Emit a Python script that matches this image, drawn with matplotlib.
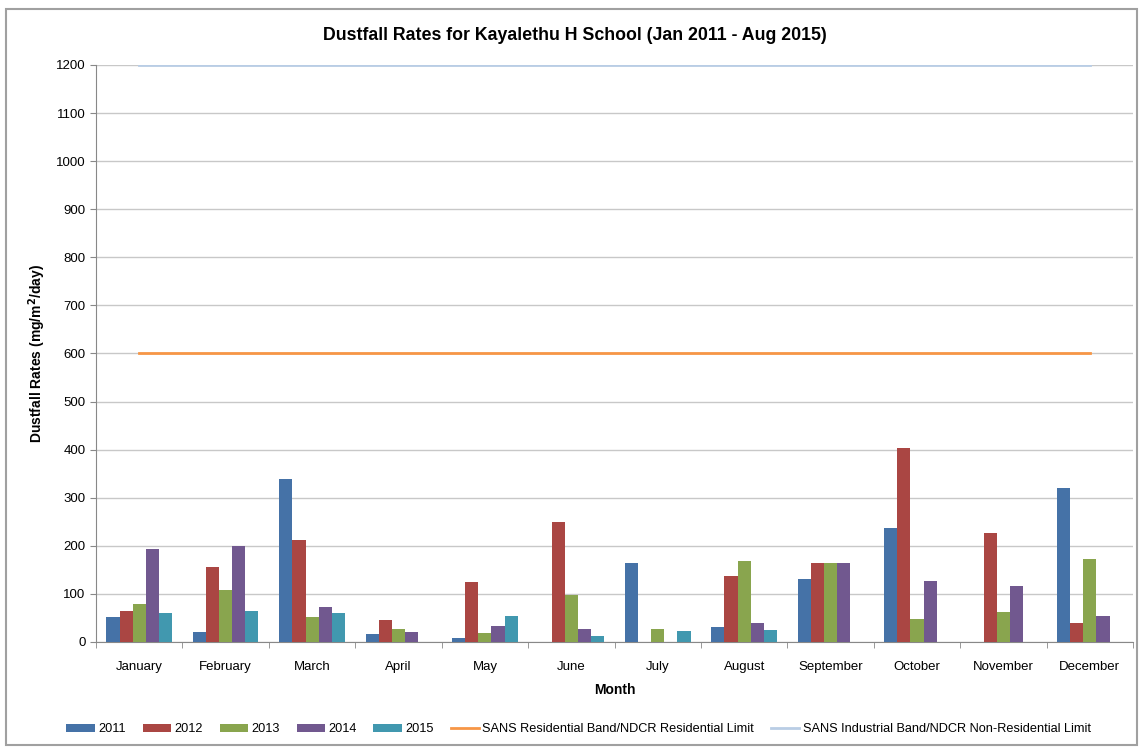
import numpy as np
import matplotlib.pyplot as plt
from matplotlib.patches import Rectangle

plt.rcParams['font.family'] = ['Liberation Sans', 'DejaVu Sans']

months = ['January', 'February', 'March', 'April', 'May', 'June', 'July',
          'August', 'September', 'October', 'November', 'December']
years = ['2011', '2012', '2013', '2014', '2015']

# dustfall values per year (nan = no measurement)
nan = np.nan
v2011 = [52, 20, 338, 17, 8, nan, 164, 32, 132, 237, nan, 320]
v2012 = [65, 155, 212, 46, 125, 250, nan, 138, 165, 403, 226, 40]
v2013 = [78, 108, 51, 26, 18, 98, 26, 169, 164, 47, 63, 172]
v2014 = [193, 200, 73, 21, 34, 28, nan, 39, 165, 127, 117, 53]
v2015 = [60, 64, 61, nan, 53, 13, 22, 24, nan, nan, nan, nan]
residential_limit = [600] * 12
industrial_limit = [1200] * 12

series = [v2011, v2012, v2013, v2014, v2015]
colors = ['#4572A7', '#AA4643', '#89A54E', '#71588F', '#4198AF']

fig = plt.figure(figsize=(11.39, 7.47), dpi=100)
ax = fig.add_axes([0.0843, 0.1406, 0.9105, 0.7724])

x = np.arange(len(months))
w = 0.152
handles = []
for i, (vals, c) in enumerate(zip(series, colors)):
    b = ax.bar(x + (i - 2) * w, vals, width=w, color=c, label=years[i], zorder=3)
    handles.append(b)

l1, = ax.plot(x, residential_limit, color='#F79646', lw=2,
              label='SANS Residential Band/NDCR Residential Limit', zorder=4)
l2, = ax.plot(x, industrial_limit, color='#B9CDE5', lw=2,
              label='SANS Industrial Band/NDCR Non-Residential Limit', zorder=4)
handles += [l1, l2]

ax.set_xlim(-0.5, 11.5)
ax.set_ylim(0, 1200)
ax.set_yticks(np.arange(0, 1201, 100))
ax.set_xticks(x)
ax.set_xticklabels(months, fontsize=9.5)
ax.set_xticks(np.arange(-0.5, 12, 1), minor=True)
ax.tick_params(axis='x', which='major', length=0, pad=14)
ax.tick_params(axis='x', which='minor', length=4, color='#888888')
ax.tick_params(axis='y', length=4, color='#888888', labelsize=9.5)
ax.grid(axis='y', color='#c8c8c8', lw=1, zorder=0)
for s in ['top', 'right']:
    ax.spines[s].set_visible(False)
ax.spines['left'].set_color('#888888')
ax.spines['bottom'].set_color('#888888')

fig.text(0.505, 0.953, 'Dustfall Rates for Kayalethu H School (Jan 2011 - Aug 2015)',
         ha='center', va='center', fontsize=12.8, fontweight='bold')
ax.set_xlabel('Month', fontsize=10, fontweight='bold', labelpad=7)
ax.set_ylabel('Dustfall Rates (mg/m$^{\\mathbf{2}}$/day)', fontsize=10,
              fontweight='bold', labelpad=6)

ax.legend(handles=handles, loc='center', bbox_to_anchor=(0.508, 0.024),
          bbox_transform=fig.transFigure, ncol=7, frameon=False, fontsize=9.2,
          handlelength=2.2, handleheight=0.6, handletextpad=0.3, columnspacing=1.3)

fig.patches.append(Rectangle((0.005, 0.003), 0.993, 0.985, transform=fig.transFigure,
                             fill=False, edgecolor='#a0a0a0', lw=1.5))

fig.savefig('out.png', dpi=100)
